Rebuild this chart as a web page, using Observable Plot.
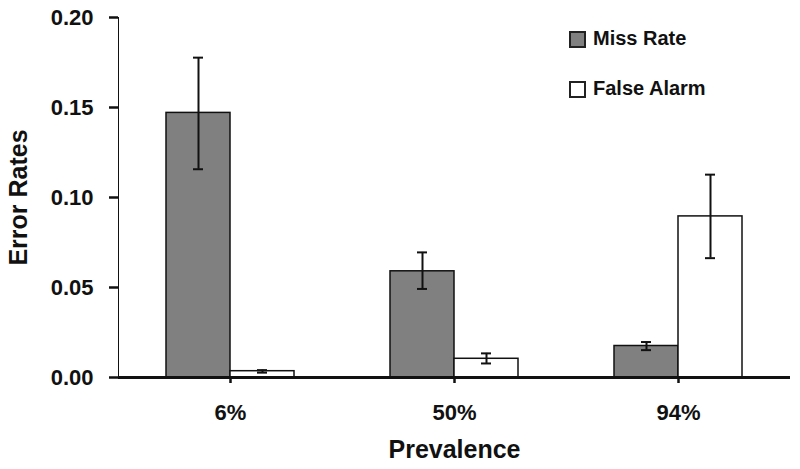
<!DOCTYPE html>
<html>
<head>
<meta charset="utf-8">
<script src="https://cdn.jsdelivr.net/npm/d3@7"></script>
<script src="https://cdn.jsdelivr.net/npm/@observablehq/plot@0.6"></script>
<style>
  html, body { margin: 0; padding: 0; background: #fff; }
  #wrap { position: relative; width: 800px; height: 469px; font-family: "Liberation Sans", Arial, Helvetica, sans-serif; }
  #wrap svg { display: block; }
  #wrap svg g[aria-label="y-axis tick"] path, #wrap svg g[aria-label="fx-axis tick"] path { stroke-width: 2.5px; }
  #wrap svg g[aria-label="y-axis label"] text, #wrap svg g[aria-label="fx-axis label"] text { font-size: 25px; }
  .leg { position: absolute; left: 569px; font-size: 20px; font-weight: bold; color: #111; line-height: 22px; }
  .sw { position: absolute; width: 13px; height: 13px; border: 2px solid #222; }
  .lt { position: absolute; left: 24px; top: 0; white-space: nowrap; }
</style>
</head>
<body>
<div id="wrap"></div>
<script>
const prevalence = ["6%", "50%", "94%"];
const series = ["Miss Rate", "False Alarm"];
const seriesColors = ["#808080", "#ffffff"];
const missRate = [0.147, 0.059, 0.0175];
const missLo = [0.1157, 0.0492, 0.0152];
const missHi = [0.1777, 0.0695, 0.0197];
const falseAlarm = [0.0035, 0.0104, 0.0895];
const faLo = [0.0027, 0.0078, 0.0663];
const faHi = [0.0041, 0.0134, 0.1127];
const yTicks = [0, 0.05, 0.10, 0.15, 0.20];

const data = [];
prevalence.forEach((p, i) => {
  data.push({prev: p, series: series[0], value: missRate[i], lo: missLo[i], hi: missHi[i]});
  data.push({prev: p, series: series[1], value: falseAlarm[i], lo: faLo[i], hi: faHi[i]});
});

const chart = Plot.plot({
  width: 800,
  height: 469,
  marginLeft: 117,
  marginRight: 10,
  marginTop: 17,
  marginBottom: 92,
  style: {fontFamily: "'Liberation Sans', Arial, Helvetica, sans-serif", fontSize: "22px", fontWeight: "bold", color: "#111", background: "#fff"},
  fx: {domain: prevalence, padding: 0, label: "Prevalence", labelAnchor: "center", labelOffset: 80, tickSize: 6, tickPadding: 21},
  x: {domain: series, axis: null, paddingInner: 0, paddingOuter: 0.75},
  y: {domain: [0, 0.2], ticks: yTicks, tickFormat: d3.format(".2f"), tickSize: 9, tickPadding: 16, line: true, label: "Error Rates", labelArrow: false, labelAnchor: "center", labelOffset: 109},
  color: {domain: series, range: seriesColors},
  marks: [
    Plot.barY(data, {fx: "prev", x: "series", y: "value", fill: "series", stroke: "#111", strokeWidth: 1.5}),
    Plot.ruleX(data, {fx: "prev", x: "series", y1: "lo", y2: "hi", stroke: "#111", strokeWidth: 2}),
    Plot.tickY(data, {fx: "prev", x: "series", y: "hi", stroke: "#111", strokeWidth: 2, insetLeft: 27, insetRight: 27}),
    Plot.tickY(data, {fx: "prev", x: "series", y: "lo", stroke: "#111", strokeWidth: 2, insetLeft: 27, insetRight: 27}),
    Plot.ruleY([0], {stroke: "#111", strokeWidth: 3})
  ]
});

const wrap = document.getElementById("wrap");
wrap.appendChild(chart);
chart.querySelectorAll('g[aria-label="y-axis line"] line, g[aria-label="y-axis line"] path').forEach(e => e.setAttribute("stroke-width", 2.5));
// guard against an arrow glyph in the y label on versions without labelArrow
chart.querySelectorAll('g[aria-label="y-axis label"] text').forEach(e => {
  e.textContent = e.textContent.replace(/\s*[↑→]\s*$/, "").replace(/^\s*[↑→]\s*/, "");
});

const legTops = [27, 77];
series.forEach((s, i) => {
  const d = document.createElement("div");
  d.className = "leg";
  d.style.top = legTops[i] + "px";
  const sw = document.createElement("div");
  sw.className = "sw";
  sw.style.top = "4px";
  sw.style.background = seriesColors[i];
  const t = document.createElement("div");
  t.className = "lt";
  t.textContent = s;
  d.appendChild(sw);
  d.appendChild(t);
  wrap.appendChild(d);
});
</script>
</body>
</html>
